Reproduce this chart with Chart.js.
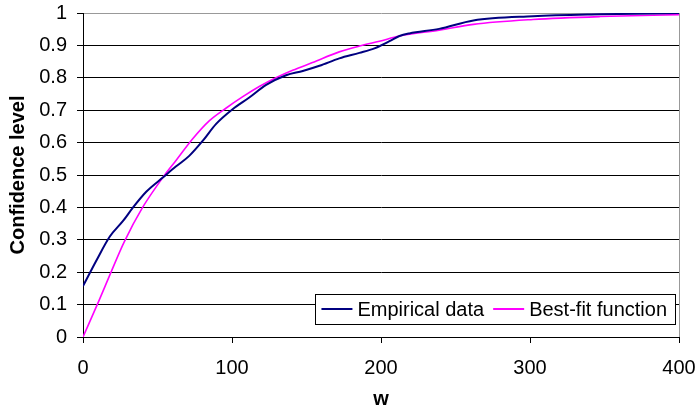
<!DOCTYPE html>
<html lang="en">
<head>
  <meta charset="UTF-8">
  <title>Confidence level vs w</title>
  <script src="https://cdn.jsdelivr.net/npm/chart.js"></script>
  <style>
    * { box-sizing: border-box; margin: 0; padding: 0; }
    body { background: #fff; }
    .wrap { position: relative; width: 697px; height: 411px; }
  </style>
</head>
<body>
  <div class="wrap"><canvas id="chart"></canvas></div>
  <script>
    // empirical curve
    const empW = [0, 9, 18, 27, 33.6, 42.6, 53.8, 62.3, 71.3, 80.3, 89.2, 100.4, 111.6, 122.9, 136.3, 147.5, 158.7, 172, 185.5, 195.6, 205.7, 212.4, 219, 239, 262, 302, 347, 400];
    const empConf = [0.157, 0.236, 0.31, 0.359, 0.4, 0.449, 0.493, 0.526, 0.559, 0.605, 0.657, 0.703, 0.739, 0.778, 0.808, 0.821, 0.837, 0.86, 0.877, 0.891, 0.913, 0.929, 0.937, 0.951, 0.977, 0.99, 0.996, 1.0];

    // best-fit curve
    const fitW = [0, 10.8, 18.6, 27.6, 40, 54.5, 62.3, 73.5, 84.7, 95.9, 107, 118.3, 129.5, 140.7, 154, 172, 185.5, 199, 212.4, 239, 262, 302, 347, 400];
    const fitConf = [0, 0.113, 0.198, 0.293, 0.4, 0.498, 0.544, 0.611, 0.667, 0.706, 0.741, 0.773, 0.8, 0.823, 0.847, 0.88, 0.898, 0.913, 0.929, 0.947, 0.965, 0.98, 0.989, 0.995];

    const seriesNames = ['Empirical data', 'Best-fit function'];
    const seriesColors = ['#000080', '#FF00FF'];

    const FONT = "'Liberation Sans', Arial, sans-serif";
    const FSIZE = 20;

    function toPoints(xs, ys) {
      return xs.map((x, i) => ({ x: x, y: ys[i] }));
    }

    // legend box sitting inside the plot, bottom right
    const insideLegend = {
      id: 'insideLegend',
      afterDraw(chart) {
        const ctx = chart.ctx;
        const area = chart.chartArea;
        ctx.save();
        ctx.font = FSIZE + 'px ' + FONT;
        const lineLen = 31, gapLine = 5, gapItem = 9, padL = 6, padR = 8;
        const widths = seriesNames.map(n => ctx.measureText(n).width);
        let w = padL + padR;
        widths.forEach((tw, i) => { w += lineLen + gapLine + tw + (i ? gapItem : 0); });
        const h = 30;
        const right = area.right - 4;
        const bottom = area.bottom - 13;
        const left = right - w, top = bottom - h;
        ctx.fillStyle = '#fff';
        ctx.fillRect(left, top, w, h);
        ctx.strokeStyle = '#000';
        ctx.lineWidth = 1;
        ctx.strokeRect(Math.round(left) + 0.5, Math.round(top) + 0.5, Math.round(w), h);
        let x = left + padL;
        const cy = top + h / 2;
        ctx.textBaseline = 'middle';
        seriesNames.forEach((name, i) => {
          if (i) x += gapItem;
          ctx.strokeStyle = seriesColors[i];
          ctx.lineWidth = 2;
          ctx.beginPath();
          ctx.moveTo(x, cy);
          ctx.lineTo(x + lineLen, cy);
          ctx.stroke();
          x += lineLen + gapLine;
          ctx.fillStyle = '#000';
          ctx.fillText(name, x, cy + 1);
          x += widths[i];
        });
        ctx.restore();
      }
    };

    new Chart(document.getElementById('chart'), {
      type: 'line',
      data: {
        datasets: [
          {
            label: seriesNames[0],
            data: toPoints(empW, empConf),
            borderColor: seriesColors[0],
            borderWidth: 2,
            pointRadius: 0,
            cubicInterpolationMode: 'monotone'
          },
          {
            label: seriesNames[1],
            data: toPoints(fitW, fitConf),
            borderColor: seriesColors[1],
            borderWidth: 1.6,
            pointRadius: 0,
            cubicInterpolationMode: 'monotone'
          }
        ]
      },
      options: {
        responsive: true,
        maintainAspectRatio: false,
        animation: false,
        layout: { padding: { top: 13, right: 18, left: 0, bottom: 0 } },
        plugins: {
          legend: { display: false },
          tooltip: { enabled: false }
        },
        scales: {
          x: {
            type: 'linear',
            min: 0,
            max: 400,
            afterFit: s => { s.height = 74; s.paddingLeft = 0; s.paddingRight = 0; },
            ticks: {
              stepSize: 100,
              color: '#000',
              padding: 13,
              maxRotation: 0,
              font: { family: FONT, size: FSIZE }
            },
            grid: {
              color: c => (c.tick && c.tick.value === 400) ? '#999' : 'rgba(0,0,0,0)',
              tickColor: '#000',
              tickLength: 6
            },
            border: { color: '#000', width: 1 },
            title: {
              display: true,
              text: 'w',
              color: '#000',
              padding: { top: 0, bottom: 0 },
              font: { family: FONT, size: FSIZE, weight: 'bold' }
            }
          },
          y: {
            min: 0,
            max: 1,
            afterFit: s => { s.width = 83; s.paddingTop = 0; s.paddingBottom = 0; },
            ticks: {
              stepSize: 0.1,
              color: '#000',
              padding: 10,
              font: { family: FONT, size: FSIZE },
              callback: v => String(Math.round(v * 10) / 10)
            },
            grid: {
              color: c => (c.tick && c.tick.value === 1) ? '#999' : '#000',
              tickColor: '#000',
              tickLength: 6
            },
            border: { color: '#000', width: 1 },
            title: {
              display: true,
              text: 'Confidence level',
              color: '#000',
              padding: { top: 6, bottom: 0 },
              font: { family: FONT, size: FSIZE, weight: 'bold' }
            }
          }
        }
      },
      plugins: [insideLegend]
    });
  </script>
</body>
</html>
